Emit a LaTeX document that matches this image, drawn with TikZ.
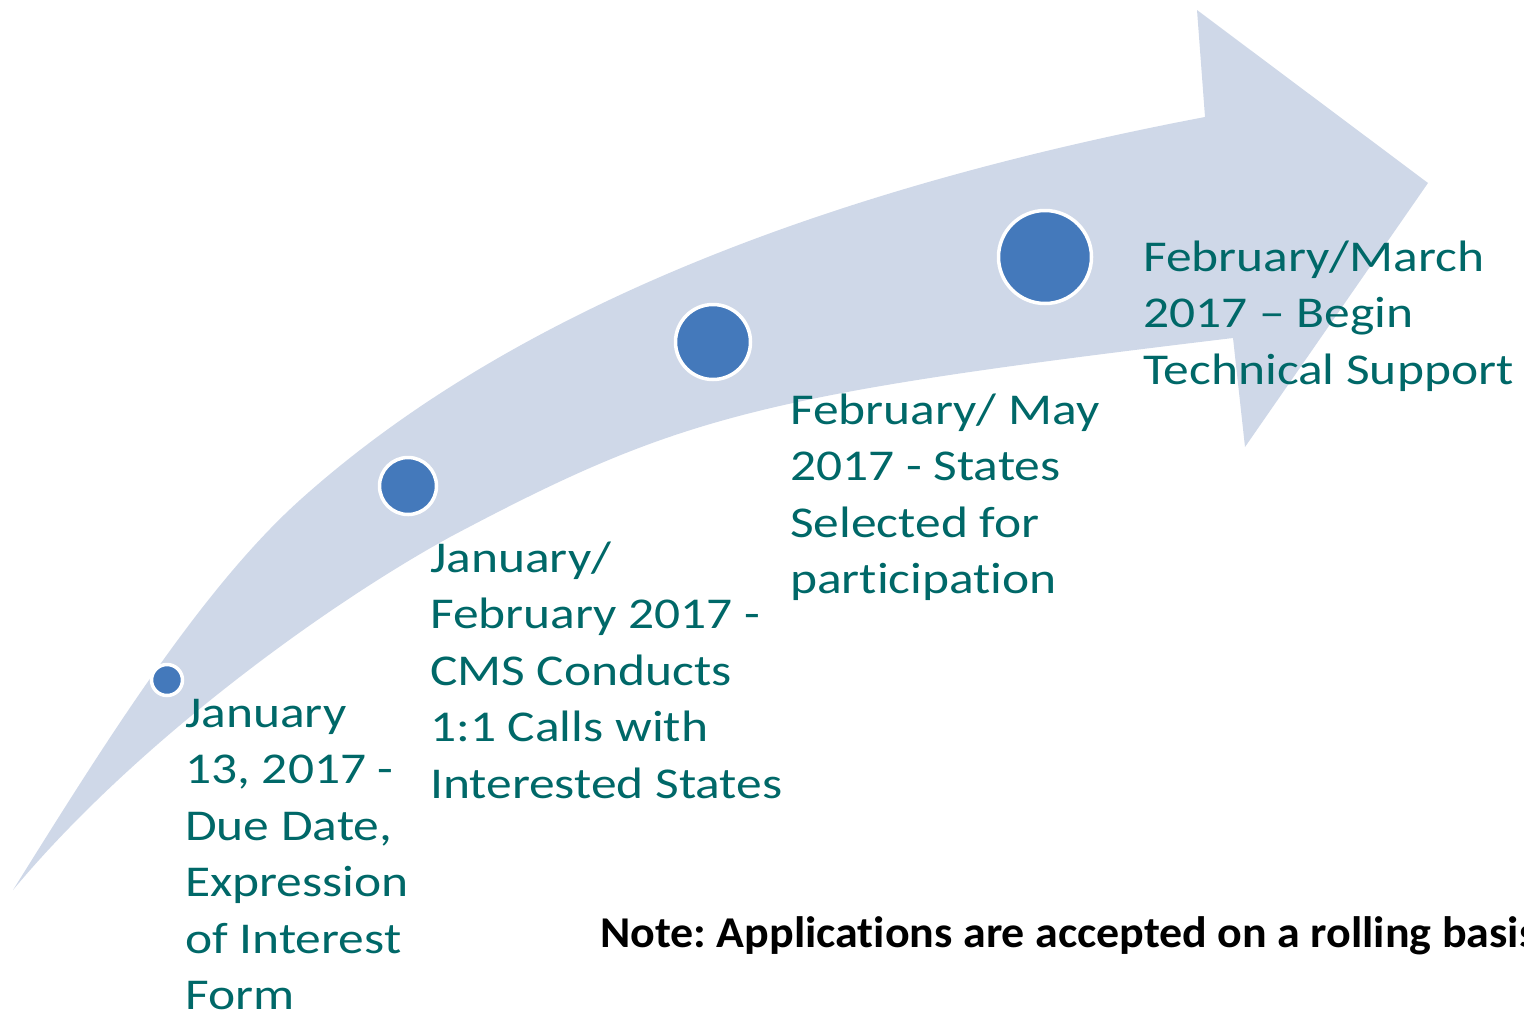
\documentclass[tikz,border=0pt]{standalone}
\usepackage{fontspec}
\setmainfont{Carlito}
\newfontfamily\labelfont{Carlito}[FakeStretch=1.17, Ligatures=NoCommon]
\newfontfamily\notefont{Carlito}[FakeStretch=1.045, Ligatures=NoCommon]
\definecolor{bandblue}{RGB}{207,216,232}
\definecolor{dotblue}{RGB}{68,121,187}
\definecolor{teal}{RGB}{0,104,104}
\frenchspacing
\begin{document}
\begin{tikzpicture}[x=1pt,y=-1pt,
  dot/.style={circle, fill=dotblue, draw=white, line width=3.5pt, inner sep=0pt},
  label/.style={anchor=base west, inner sep=0pt, align=left, text=teal,
    font=\labelfont\fontsize{44}{56.5}\selectfont},
  notetext/.style={anchor=base west, inner sep=0pt, text=black,
    font=\notefont\bfseries\fontsize{44}{56.5}\selectfont}]
\useasboundingbox (0,0) rectangle (1524,1013);
\clip (0,0) rectangle (1524,1013);
% curved arrow
\fill[bandblue] (13,890) .. controls (103,746) and (200,590) .. (300,500)
  .. controls (498,322) and (800,194) .. (1205,117)
  -- (1197,10) -- (1428,183) -- (1245,447) -- (1233,338)
  .. controls (759,395) and (680,415) .. (450,537)
  .. controls (320,608.5) and (133,746) .. (13,890) -- cycle;
% milestones
\node[dot, minimum size=31pt] (c1) at (167,680) {};
\node[dot, minimum size=57pt] (c2) at (408,486) {};
\node[dot, minimum size=75pt] (c3) at (713,342) {};
\node[dot, minimum size=93pt] (c4) at (1045,257) {};
% labels (anchored at the baseline of the last line)
\node[label] (t1) at (185,1009.5) {January\\13, 2017 -\\Due Date,\\Expression\\of Interest\\Form};
\node[label] (t2) at (430,798) {January/\\February 2017 -\\CMS Conducts\\1:1 Calls with\\Interested States};
\node[label] (t3) at (790,593.5) {February/ May\\2017 - States\\Selected for\\participation};
\node[label] (t4) at (1143,384) {February/March\\2017 – Begin\\Technical Support};
\node[notetext] (note) at (600,947) {Note: Applications are accepted on a rolling basis};
\end{tikzpicture}
\end{document}
